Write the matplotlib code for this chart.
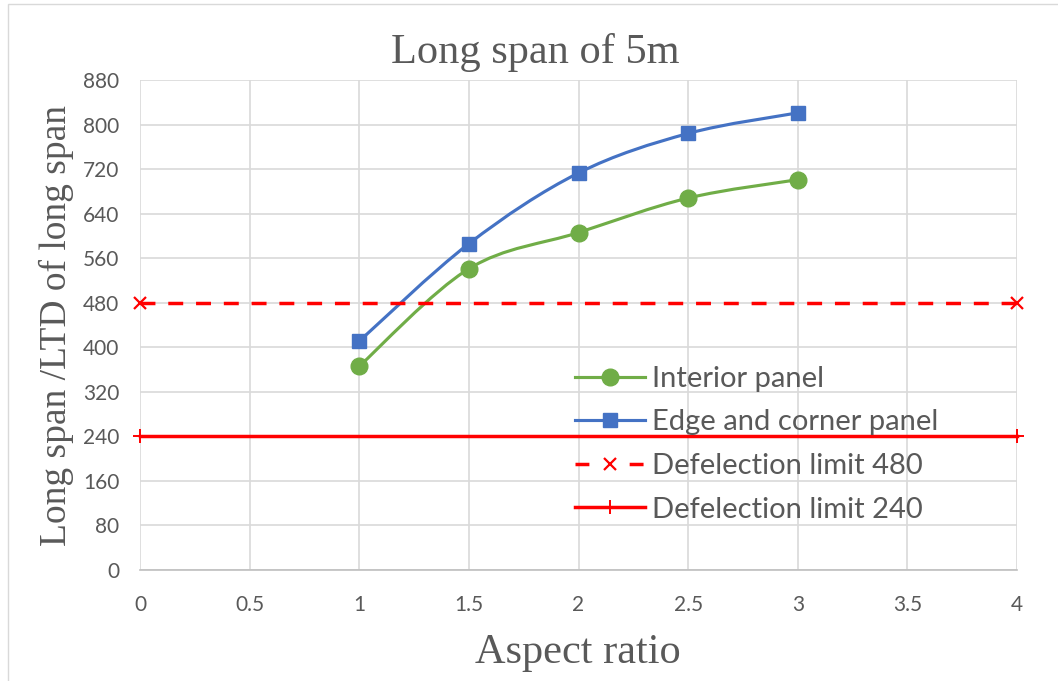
import numpy as np
import matplotlib
matplotlib.use("Agg")
import matplotlib.pyplot as plt
from matplotlib.path import Path
from matplotlib.patches import PathPatch, Rectangle
from matplotlib.lines import Line2D

# --- data
aspect_ratio = [1, 1.5, 2, 2.5, 3]
interior_panel = [366, 541, 606, 668, 701]
edge_corner_panel = [411, 586, 713, 784, 821]
limit_x = [0, 4]
limit_480 = [480, 480]
limit_240 = [240, 240]
x_ticks = [0, 0.5, 1, 1.5, 2, 2.5, 3, 3.5, 4]
x_tick_labels = ["0", "0.5", "1", "1.5", "2", "2.5", "3", "3.5", "4"]
y_ticks = [0, 80, 160, 240, 320, 400, 480, 560, 640, 720, 800, 880]

GREEN = "#70AD47"
BLUE = "#4472C4"
RED = "#FF0000"
GRID = "#D9D9D9"
TXT = "#595959"
SANS = "Lato"
SERIF = "Liberation Serif"


def smooth_path(x, y):
    """Bezier path through the points (Catmull-Rom style control points)."""
    pts = np.column_stack([x, y]).astype(float)
    ext = np.vstack([pts[0], pts, pts[-1]])
    verts = [pts[0]]
    codes = [Path.MOVETO]
    for i in range(1, len(ext) - 2):
        p0, p1, p2, p3 = ext[i - 1], ext[i], ext[i + 1], ext[i + 2]
        verts += [p1 + (p2 - p0) / 6, p2 - (p3 - p1) / 6, p2]
        codes += [Path.CURVE4] * 3
    return Path(verts, codes)


fig = plt.figure(figsize=(10.58, 6.81), dpi=100)
W, H = 1058, 681

# chart area border
fig.patches.append(Rectangle((8 / W, -0.1), 1.2, 1 - 4 / H + 0.1,
                             transform=fig.transFigure, fill=False,
                             edgecolor=GRID, linewidth=1))

ax = fig.add_axes([140 / W, (H - 570) / H, 877 / W, 490 / H])

# smoothed series
for xs, ys, col in [(aspect_ratio, interior_panel, GREEN),
                    (aspect_ratio, edge_corner_panel, BLUE)]:
    ax.add_patch(PathPatch(smooth_path(xs, ys), fill=False, edgecolor=col,
                           linewidth=2.25, zorder=3, capstyle="round"))

ax.plot(aspect_ratio, interior_panel, ls="none", marker="o", markersize=12,
        color=GREEN, zorder=4)
ax.plot(aspect_ratio, edge_corner_panel, ls="none", marker="s", markersize=10.5,
        color=BLUE, zorder=4)

# deflection limits
ax.plot(limit_x, limit_480, color=RED, linewidth=2.5, dashes=(4.3, 3.7),
        marker="x", markersize=9, markeredgewidth=1.6, clip_on=False, zorder=5)
ax.plot(limit_x, limit_240, color=RED, linewidth=2.5,
        marker="+", markersize=10, markeredgewidth=1.4, clip_on=False, zorder=5)

# --- axes
ax.set_xlim(0, 4)
ax.set_ylim(0, 880)
ax.set_xticks(x_ticks)
ax.set_xticklabels(x_tick_labels)
ax.set_yticks(y_ticks)
for s in ["left", "right", "top"]:
    ax.spines[s].set_visible(False)
ax.spines["bottom"].set_color("#BFBFBF")
ax.spines["bottom"].set_linewidth(1.2)
ax.grid(True, color=GRID, linewidth=1.2)
ax.set_axisbelow(True)
ax.tick_params(axis="both", length=0, labelsize=15, labelcolor=TXT)
ax.tick_params(axis="y", pad=15)
ax.tick_params(axis="x", pad=18)
for lab in ax.get_xticklabels() + ax.get_yticklabels():
    lab.set_fontfamily(SANS)

# titles
fig.text(535 / W, 1 - 63 / H, "Long span of 5m", ha="center", va="baseline",
         fontsize=30.5, family=SERIF, color=TXT)
fig.text(578 / W, 1 - 663 / H, "Aspect ratio", ha="center", va="baseline",
         fontsize=30.5, family=SERIF, color=TXT)
fig.text(56 / W, 1 - 325 / H, "Long span /LTD of long span", ha="center",
         va="center", rotation=90, fontsize=27, family=SERIF, color=TXT)

# legend
handles = [
    Line2D([], [], color=GREEN, lw=2.25, marker="o", markersize=12),
    Line2D([], [], color=BLUE, lw=2.25, marker="s", markersize=10.5),
    Line2D([], [], color=RED, lw=2.5, linestyle=(0, (4.0, 11.6)), marker="x",
           markersize=9, markeredgewidth=1.6),
    Line2D([], [], color=RED, lw=2.5, marker="+", markersize=10,
           markeredgewidth=1.4),
]
labels = ["Interior panel", "Edge and corner panel",
          "Defelection limit 480", "Defelection limit 240"]
leg = ax.legend(handles, labels, loc="upper left",
                bbox_to_anchor=(575 / W, 1 - 366 / H),
                bbox_transform=fig.transFigure, frameon=False,
                prop={"family": SANS, "size": 21}, labelcolor=TXT,
                handlelength=2.4, handletextpad=0.25, labelspacing=0.6,
                borderpad=0, borderaxespad=0, markerscale=1)

fig.savefig("out.png", dpi=100)
